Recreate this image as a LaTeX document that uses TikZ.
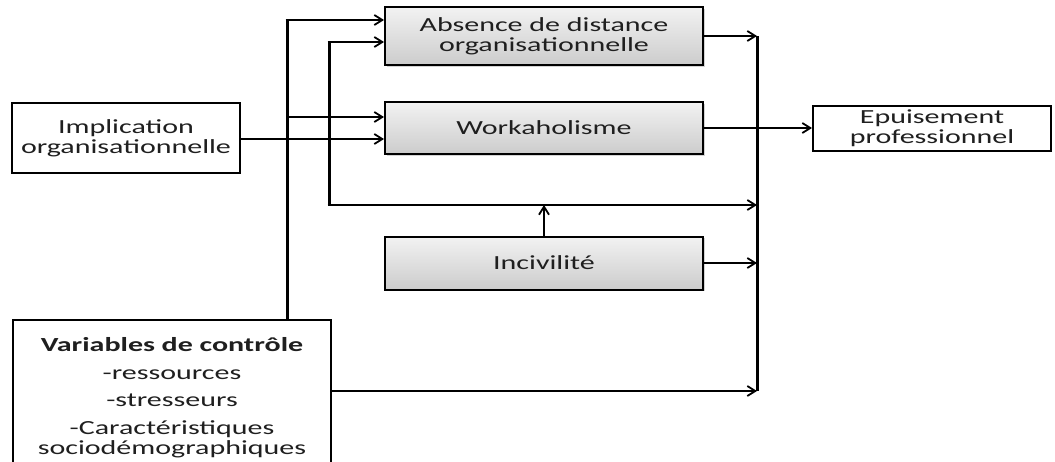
\documentclass[tikz,border=0pt]{standalone}
\usepackage{fontspec}
\setmainfont{Carlito}[FakeStretch=1.5]
\usetikzlibrary{arrows.meta,shadows,calc}
\begin{document}
\begin{tikzpicture}[x=1pt,y=-1pt,
  txt/.style={font=\fontsize{20}{20}\selectfont, align=center, text=black!88},
  wbox/.style={txt, draw, line width=2pt, fill=white, inner sep=2pt},
  gbox/.style={txt, draw, line width=2pt, top color=gray!10, bottom color=gray!40,
     drop shadow={shadow xshift=1.5pt, shadow yshift=-1.5pt, opacity=0.35},
     minimum width=318pt, inner sep=2pt},
  arr/.style={line width=2pt, -{Straight Barb[length=8pt,width=10pt,line width=1.8pt]}},
  bar/.style={line width=3pt}
]
\useasboundingbox (0,0) rectangle (1055,461);
\node[gbox, minimum height=58pt] (abs) at (544,36) {Absence de distance\\organisationnelle};
\node[gbox, minimum height=52pt] (work) at (544,128) {Workaholisme};
\node[gbox, minimum height=53pt] (inc) at (544,263) {Incivilité};
\node[wbox, minimum width=228pt, minimum height=70pt] (impl) at (126,138) {Implication\\organisationnelle};
\node[wbox, minimum width=238pt, minimum height=45pt] (epu) at (932,128) {Epuisement\\professionnel};
\node[wbox, anchor=north west, minimum width=318pt, text width=310pt, inner ysep=17pt] (var) at (12,319)
  {\textbf{Variables de contrôle}\\[8pt]-ressources\\[7pt]-stresseurs\\[8pt]-Caractéristiques\\sociodémographiques\\[40pt]};
\coordinate (v1) at (287,20);
\coordinate (v2) at (329,42);
\coordinate (h3) at (329,205);
\coordinate (vr) at (757,36);
\coordinate (vrb) at (757,391);
% left bar
\draw[bar] (v1 |- var.north) -- (v1);
\draw[arr] ($(v1)+(-1.5,0)$) -- (abs.west |- v1);
\draw[arr] (v1 |- 0,117) -- (work.west |- 0,117);
\draw[arr] (impl.east |- 0,139) -- (work.west |- 0,139);
% second bar
\draw[bar] (h3) -- (v2);
\draw[arr] ($(v2)+(-1.5,0)$) -- (abs.west |- v2);
\draw[arr] ($(h3)+(-1.5,0)$) -- (vr |- h3);
\draw[arr] (inc.north) -- (inc.north |- h3);
% right bar
\draw[bar] (vr) -- (vrb);
\draw[arr] (abs.east |- vr) -- (vr);
\draw[arr] (work.east) -- (epu.west);
\draw[arr] (inc.east) -- (vr |- inc.east);
\draw[arr] (var.east |- vrb) -- (vrb);
\end{tikzpicture}
\end{document}
